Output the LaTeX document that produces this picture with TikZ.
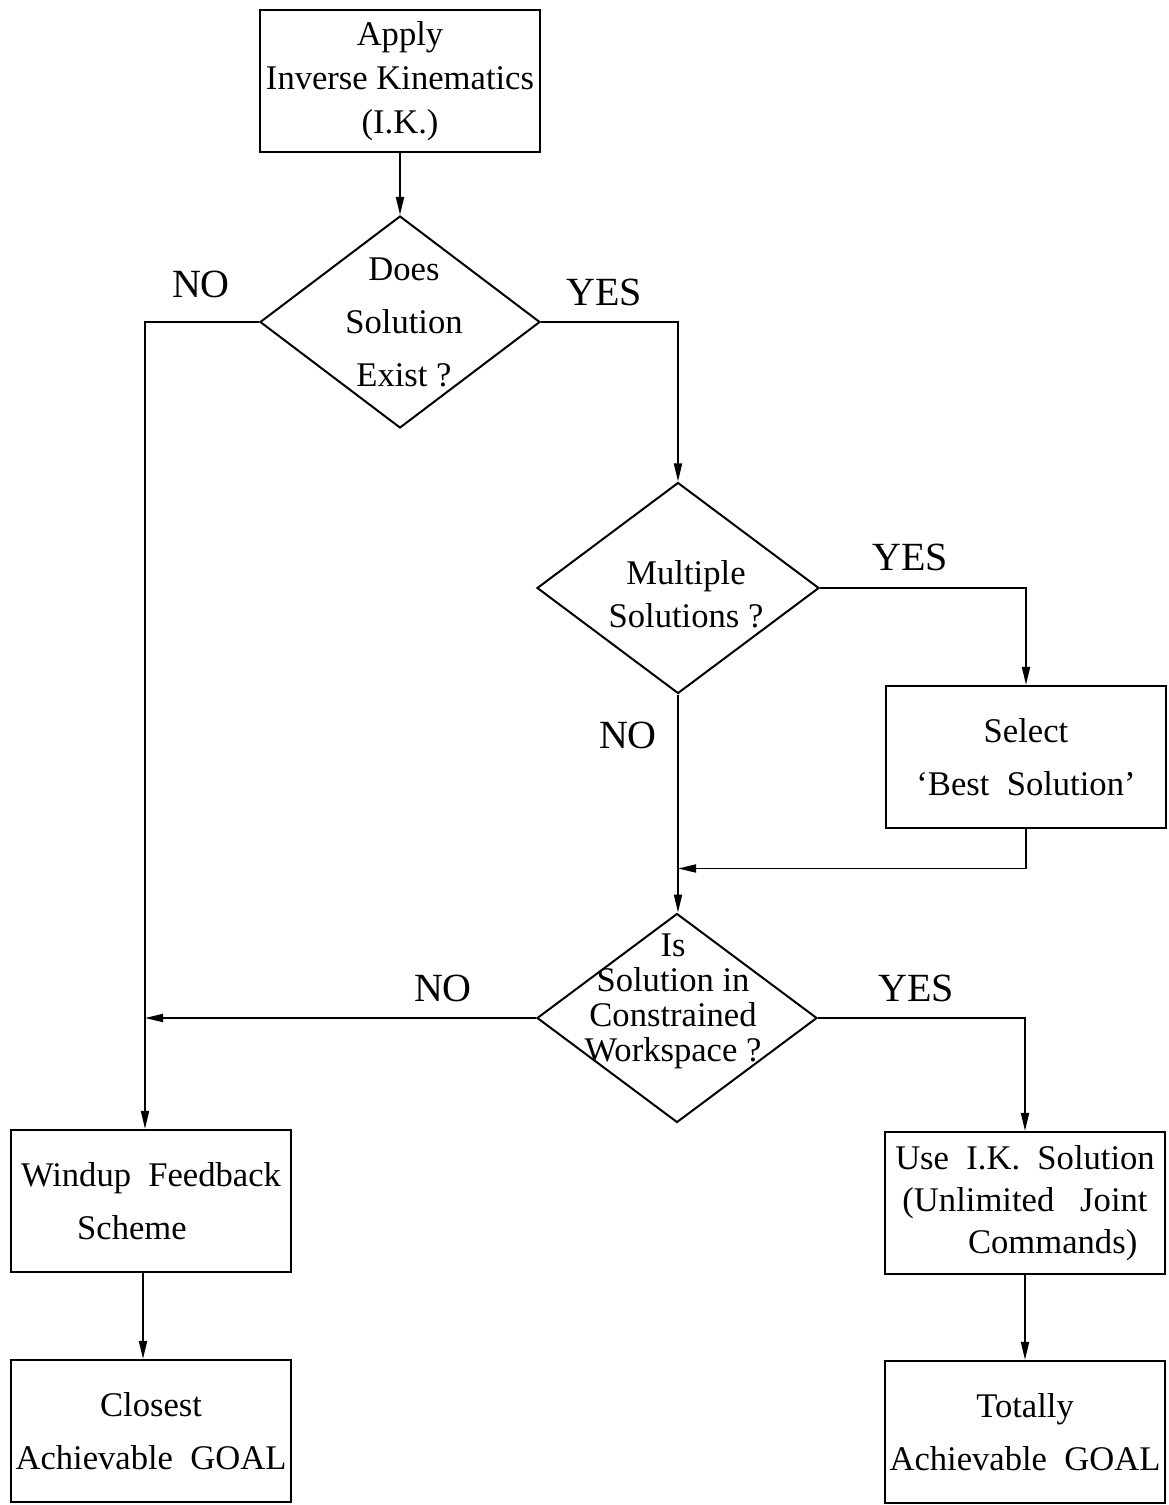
\documentclass[tikz,border=0pt]{standalone}
\usepackage{fontspec}
\setmainfont{Liberation Serif}
\usetikzlibrary{shapes.geometric,arrows.meta}

\tikzset{
  blk/.style={draw,line width=1.1pt,minimum width=140pt,minimum height=71pt,align=center,inner sep=0pt,
    font=\fontsize{17.3}{26.5}\selectfont},
  dmd/.style={draw,diamond,line width=1pt,minimum width=140pt,minimum height=106pt,inner sep=0pt},
  dtxt/.style={align=center,inner sep=0pt},
  ans/.style={font=\fontsize{20}{24}\selectfont},
  flow/.style={line width=0.9pt,-{Triangle[length=9pt,width=4pt]}}
}

\begin{document}
\begin{tikzpicture}[x=0.5pt,y=-0.5pt]

\useasboundingbox (0,0) rectangle (1168,1505);

% boxes
\node[blk,font=\fontsize{17.3}{22}\selectfont] (ik) at (400,81) {Apply\\Inverse Kinematics\\(I.K.)};
\node[blk] (select) at (1026,757) {Select\\ `Best\ \ Solution'};
\node[blk] (windup) at (151,1201) {Windup\ \ Feedback\\Scheme\hspace*{1.1em}};
\node[blk] (closest) at (151,1431) {Closest\\Achievable\ \ GOAL};
\node[blk,font=\fontsize{17.3}{21}\selectfont] (use) at (1025,1203) {Use\ \ I.K.\ \ Solution\\(Unlimited\ \ \ Joint\\\hspace*{1.6em}Commands)};
\node[blk] (total) at (1025,1432) {Totally\\Achievable\ \ GOAL};

% decisions
\node[dmd] (exist) at (400,322) {};
\node[dtxt,font=\fontsize{17.3}{26.5}\selectfont] (existtxt) at (404,322) {Does\\Solution\\Exist ?};

\node[dmd,minimum width=141pt,minimum height=105.5pt] (multi) at (678,588) {};
\node[dtxt,font=\fontsize{17.3}{21.5}\selectfont] (multitxt) at (686,594) {Multiple\\Solutions ?};

\node[dmd,minimum height=104.5pt] (check) at (677,1018) {};
\node[dtxt,font=\fontsize{17.3}{17.5}\selectfont] (checktxt) at (673,1001) {Is\\Solution in\\Constrained\\Workspace ?};

% connectors
\coordinate (wtop) at ([xshift=-3pt]windup.north);
\draw[flow] (ik) -- (exist);
\draw[flow] (exist.east) -| (multi);
\draw[flow] (exist.west) -| (wtop);
\draw[flow] (multi.east) -| (select);
\draw[flow] (multi.south) -- ([xshift=0.5pt]check.north);
\draw[flow] (select.south) |- ([xshift=0.5pt,yshift=22pt]check.north);
\draw[flow] (check.west) -- (check.west -| wtop);
\draw[flow] (check.east) -| (use);
\draw[flow] ([xshift=-4pt]windup.south) -- ([xshift=-4pt]closest.north);
\draw[flow] (use) -- (total);

% answers
\node[ans] (no1) at (201,284) {NO};
\node[ans] (yes1) at (604,292) {YES};
\node[ans] (yes2) at (910,557) {YES};
\node[ans] (no2) at (628,735) {NO};
\node[ans] (no3) at (443,988) {NO};
\node[ans] (yes3) at (916,988) {YES};

\end{tikzpicture}
\end{document}
